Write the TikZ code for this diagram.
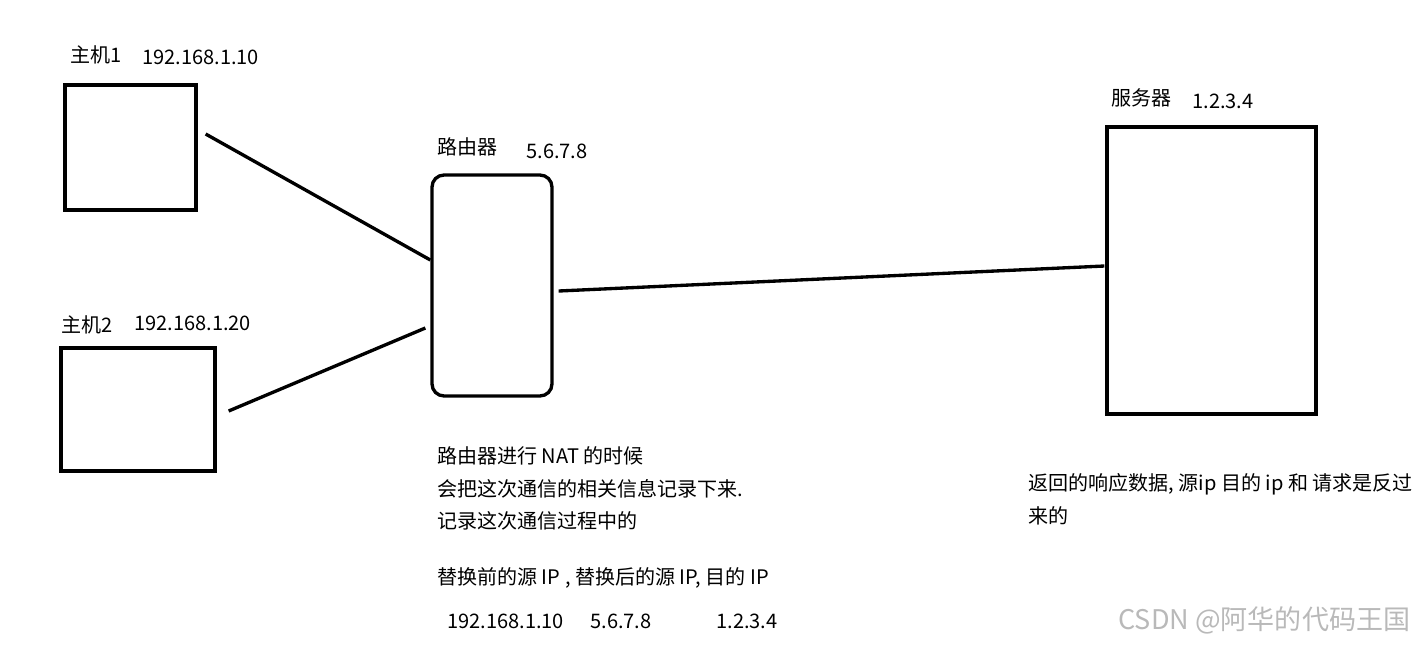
\documentclass[tikz,border=0pt]{standalone}
\usepackage{fontspec}
\setmainfont{Noto Sans CJK SC}
\usetikzlibrary{calc, positioning}

\begin{document}
\begin{tikzpicture}[x=0.02cm, y=-0.02cm,
    box/.style={draw, line width=1.9pt, inner sep=0pt},
    link/.style={line width=1.9pt},
    lbl/.style={anchor=west, inner sep=0pt, font=\fontsize{11.4}{18.7}\selectfont},
    wmark/.style={lbl, text=gray!55, font=\fontsize{15.4}{17}\selectfont}]
  \useasboundingbox (0,0) rectangle (1416,647);
  % hosts, router and server
  \node[box, minimum width=2.62cm, minimum height=2.5cm] (h1) at (130.5,147.5) {};
  \node[box, minimum width=3.08cm, minimum height=2.46cm] (h2) at (138,409.5) {};
  \node[box, rounded corners=0.24cm, minimum width=2.4cm, minimum height=4.42cm] (rt) at (492,285.5) {};
  \node[box, minimum width=4.18cm, minimum height=5.74cm] (srv) at (1211.5,270.5) {};
  % labels
  \node[lbl] (h1name) at (70,55) {主机1};
  \node[lbl] (h1ip) at (142,57) {192.168.1.10};
  \node[lbl] (h2name) at (61,325) {主机2};
  \node[lbl] (h2ip) at (134,323) {192.168.1.20};
  \node[lbl] (rtname) at (437,147) {路由器};
  \node[lbl] (rtip) at (526,151) {5.6.7.8};
  \node[lbl] (srvname) at (1111,98) {服务器};
  \node[lbl] (srvip) at (1192,101) {1.2.3.4};
  % links (not touching the boxes)
  \draw[link] ([xshift=8*0.02cm, yshift=13.5*0.02cm]h1.east) -- ([yshift=25.5*0.02cm]rt.west);
  \draw[link] ([xshift=12*0.02cm, yshift=-1.5*0.02cm]h2.east) -- ([xshift=-5*0.02cm, yshift=-42.5*0.02cm]rt.west);
  \draw[link] ([xshift=5*0.02cm, yshift=-5.5*0.02cm]rt.east) -- ([xshift=-1*0.02cm, yshift=4.5*0.02cm]srv.west);
  % notes
  \node[lbl, align=left, anchor=north west] (natnote) at (437,446) {路由器进行 NAT 的时候\\会把这次通信的相关信息记录下来.\\记录这次通信过程中的};
  \node[lbl] (table) at (437,578) {替换前的源 IP , 替换后的源 IP, 目的 IP};
  \node[lbl] (oldip) at (447,621) {192.168.1.10};
  \node[lbl] (newip) at (590,621) {5.6.7.8};
  \node[lbl] (dstip) at (716,621) {1.2.3.4};
  \node[lbl, align=left, anchor=north west] (backnote) at (1028,473) {返回的响应数据, 源ip 目的 ip 和 请求是反过\\来的};
  \node[wmark] (wm) at (1118,620) {CSDN @阿华的代码王国};
\end{tikzpicture}
\end{document}
